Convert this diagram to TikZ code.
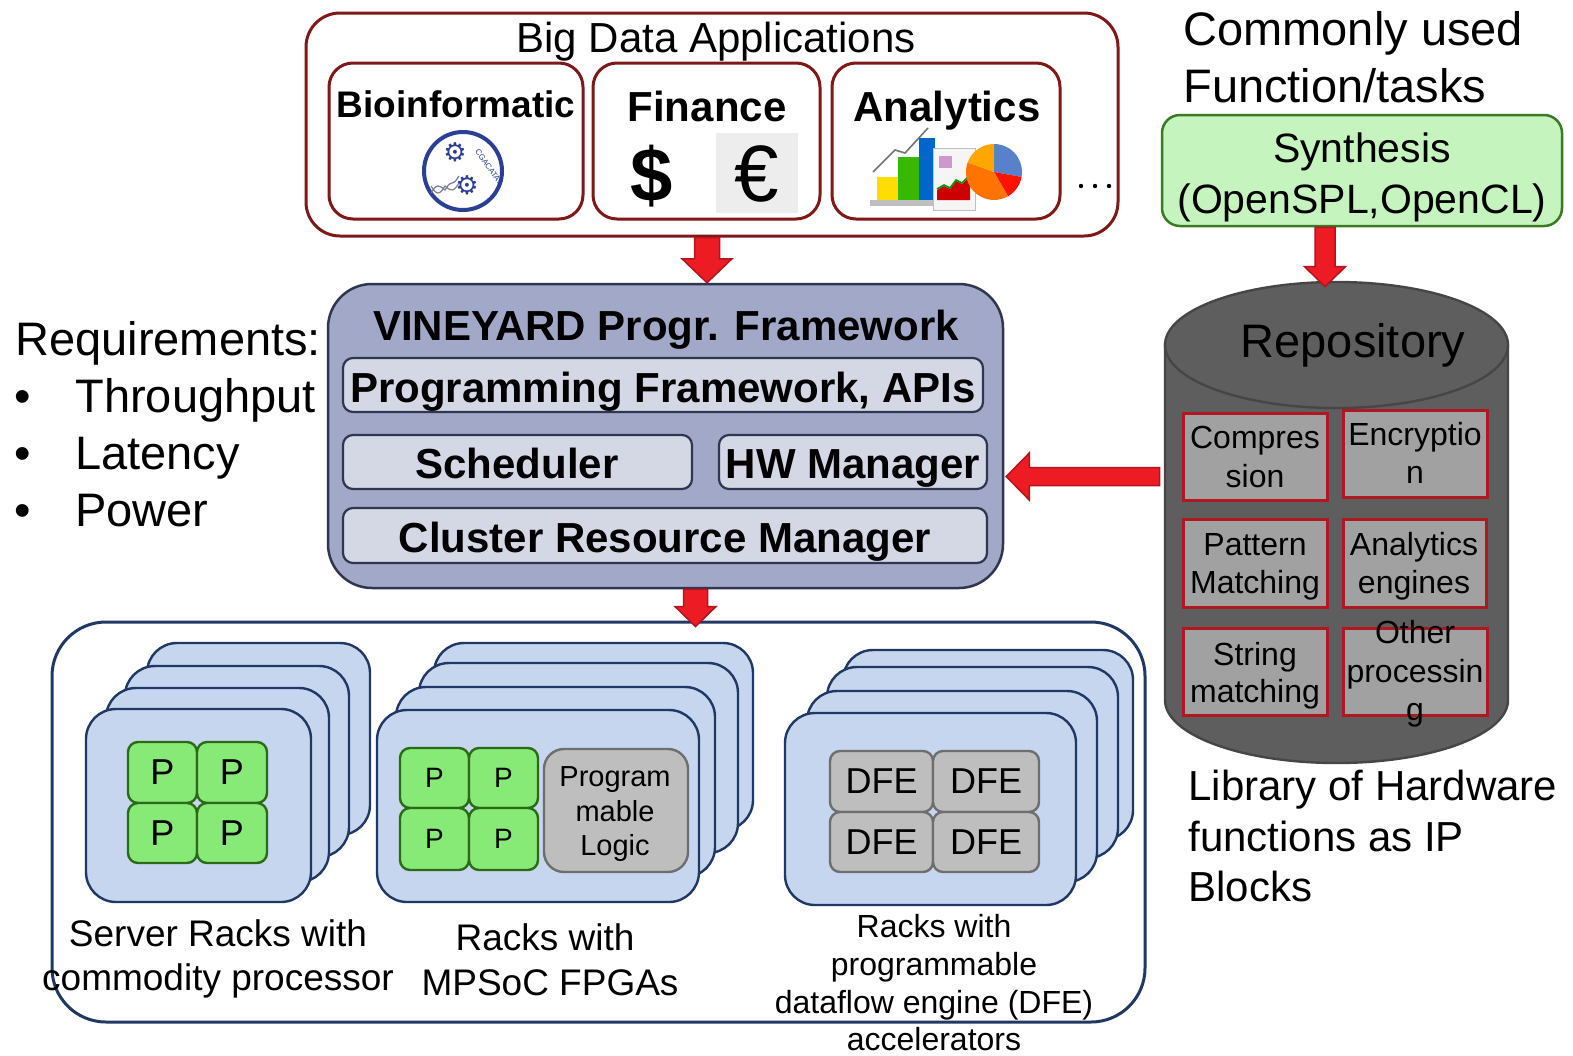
\documentclass[tikz,border=0pt]{standalone}
\usepackage{fontspec}
\setmainfont{Liberation Sans}
\newfontfamily\symfont{DejaVu Sans}
\usetikzlibrary{fit,calc}

\definecolor{appred}{RGB}{128,24,24}
\definecolor{arrowred}{RGB}{237,28,36}
\definecolor{arrowdark}{RGB}{180,20,28}
\definecolor{vfill}{RGB}{162,169,200}
\definecolor{vline}{RGB}{47,54,80}
\definecolor{vinner}{RGB}{212,216,228}
\definecolor{rackfill}{RGB}{197,214,238}
\definecolor{rackline}{RGB}{31,56,100}
\definecolor{pfill}{RGB}{136,234,118}
\definecolor{pline}{RGB}{43,106,23}
\definecolor{dfefill}{RGB}{190,190,190}
\definecolor{dfeline}{RGB}{110,110,110}
\definecolor{synfill}{RGB}{198,244,190}
\definecolor{synline}{RGB}{59,122,37}
\definecolor{repofill}{RGB}{94,94,94}
\definecolor{repoline}{RGB}{70,70,70}
\definecolor{ipfill}{RGB}{161,161,161}
\definecolor{ipline}{RGB}{176,24,32}
\definecolor{bioblue}{RGB}{43,63,148}

% block arrow pointing down: start, tip, half shaft, half head, head length
\newcommand\blkdown[5]{%
  \draw[blockarrow] ($(#1)+(-#3,0)$) -- ($(#1)+(#3,0)$) -- ($(#1 |- #2)+(#3,-#5)$)
    -- ($(#1 |- #2)+(#4,-#5)$) -- (#1 |- #2) -- ($(#1 |- #2)+(-#4,-#5)$)
    -- ($(#1 |- #2)+(-#3,-#5)$) -- cycle;}
% block arrow pointing left: start, tip, half shaft, half head, head length
\newcommand\blkleft[5]{%
  \draw[blockarrow] ($(#1)+(0,-#3)$) -- ($(#1)+(0,#3)$) -- ($(#2 |- #1)+(#5,#3)$)
    -- ($(#2 |- #1)+(#5,#4)$) -- (#2 |- #1) -- ($(#2 |- #1)+(#5,-#4)$)
    -- ($(#2 |- #1)+(#5,-#3)$) -- cycle;}

\tikzset{
  txt/.style={anchor=base, inner sep=0pt},
  lefttxt/.style={anchor=base west, inner sep=0pt},
  ctr/.style={anchor=center, inner sep=0pt},
  appouter/.style={draw=appred, line width=1.5pt, rounded corners=17pt, fill=white, inner sep=0pt},
  appbox/.style={draw=appred, line width=1.5pt, rounded corners=12pt, fill=white, inner sep=0pt},
  blockarrow/.style={fill=arrowred, draw=arrowdark, line width=0.75pt, line join=miter},
  vinebox/.style={draw=vline, line width=1.25pt, rounded corners=22pt, fill=vfill, inner sep=0pt},
  vinepart/.style={draw=vline, line width=1.1pt, rounded corners=5pt, fill=vinner, inner sep=0pt},
  synbox/.style={draw=synline, line width=1.25pt, rounded corners=9pt, fill=synfill, inner sep=0pt},
  ipbox/.style={draw=ipline, line width=1.5pt, fill=ipfill, inner sep=0pt},
  rackouter/.style={draw=rackline, line width=1.5pt, rounded corners=27pt, fill=white, inner sep=0pt},
  card/.style={draw=rackline, line width=1.2pt, rounded corners=15pt, fill=rackfill, inner sep=0pt},
  pbox/.style={draw=pline, line width=1.2pt, rounded corners=5pt, fill=pfill, inner sep=0pt},
  dfebox/.style={draw=dfeline, line width=1.2pt, rounded corners=5pt, fill=dfefill, inner sep=0pt},
  big/.style={font=\fontsize{23.5}{28}\selectfont},
  mid/.style={font=\fontsize{21}{25}\selectfont},
  bmid/.style={font=\bfseries\fontsize{21}{25}\selectfont},
  iptxt/.style={font=\fontsize{16}{19}\selectfont},
  lbl/.style={font=\fontsize{18.5}{22}\selectfont},
  slbl/.style={font=\fontsize{16}{19}\selectfont},
  bigp/.style={ctr, font=\fontsize{18}{18}\selectfont},
  smallp/.style={ctr, font=\fontsize{14}{14}\selectfont},
}

\begin{document}
\begin{tikzpicture}[x=0.5pt,y=-0.5pt]
\useasboundingbox[fill=white] (0,0) rectangle (1573,1055);

% ---------------- Big Data Applications ----------------
\node[appouter, fit={(306,13)(1118,236)}] (bigdata) {};
\node[txt, mid] (bdtitle) at (716,52) {Big Data Applications};
\node[appbox, fit={(329,63)(583,219)}] (bio) {};
\node[appbox, fit={(593,63)(820,219)}] (fin) {};
\node[appbox, fit={(832,63)(1060,219)}] (ana) {};
\node[txt, font=\bfseries\fontsize{18.5}{22}\selectfont] (biot) at (456,117) {Bioinformatic};
\node[txt, bmid] (fint) at (707,121) {Finance};
\node[txt, bmid] (anat) at (947,121) {Analytics};

% bioinformatics emblem
\draw[bioblue, line width=2pt] (463,171) circle [radius=39];
\node[text=bioblue, font=\symfont\fontsize{13}{13}\selectfont, inner sep=0pt] (gear1) at (455,152) {⚙};
\node[text=bioblue, font=\symfont\fontsize{13}{13}\selectfont, inner sep=0pt] (gear2) at (467,185) {⚙};
\draw[bioblue!70, line width=0.6pt] (431,193) sin (438,186) cos (445,190) sin (452,183) cos (459,176);
\draw[gray, line width=0.6pt] (431,186) sin (438,193) cos (445,186) sin (452,190) cos (459,183);
\node[text=bioblue, font=\fontsize{4}{4}\selectfont, rotate=-55, inner sep=0pt] (dna) at (489,167) {CGACATAT};

% currency symbols
\node[font=\bfseries\fontsize{38}{38}\selectfont, inner sep=0pt] (dollar) at (652,176) {\$};
\fill[black!7] (716,133) rectangle (798,213);
\node[font=\fontsize{40}{40}\selectfont, inner sep=0pt] (euro) at (757,174) {€};

% analytics chart icon
\fill[black!25] (870,200) rectangle (938,206);
\fill[yellow!80!orange] (877,177) rectangle (898,200);
\fill[green!60!black!70!lime] (898,157) rectangle (919,200);
\fill[blue!50!cyan!80!black] (919,138) rectangle (935,200);
\draw[black!55, line width=0.8pt] (873,172) -- (895,150) -- (905,153) -- (928,128);
\filldraw[fill=black!4, draw=black!25, line width=0.5pt] (933,148) rectangle (975,210);
\fill[red!80!black] (937,200) -- (937,190) -- (944,186) -- (950,189) -- (956,181) -- (962,184) -- (970,176) -- (970,200) -- cycle;
\draw[green!60!black, line width=0.8pt] (937,189) -- (944,185) -- (950,188) -- (956,180) -- (962,183) -- (970,175);
\fill[violet!40] (939,156) rectangle (952,168);
\fill[cyan!40!blue!70] (994,172) -- +(-90:28) arc[start angle=-90, end angle=10, radius=28] -- cycle;
\fill[red!85!orange] (994,172) -- +(10:28) arc[start angle=10, end angle=60, radius=28] -- cycle;
\fill[orange!90!red] (994,172) -- +(60:28) arc[start angle=60, end angle=200, radius=28] -- cycle;
\fill[orange!70!yellow] (994,172) -- +(200:28) arc[start angle=200, end angle=270, radius=28] -- cycle;

% ellipsis
\foreach \xx in {1081,1095,1109} \fill (\xx,186) circle [radius=2.2];

% ---------------- Synthesis ----------------
\node[lefttxt, big] (cu1) at (1183,45) {Commonly used};
\node[lefttxt, big] (cu2) at (1183,102) {Function/tasks};
\node[synbox, fit={(1162,115)(1562,226)}] (synth) {};
\node[txt, font=\fontsize{20.5}{25}\selectfont] (syn1) at (1362,162) {Synthesis};
\node[txt, font=\fontsize{20.5}{25}\selectfont] (syn2) at (1362,213) {(OpenSPL,OpenCL)};

% ---------------- Requirements ----------------
\node[lefttxt, big] (req) at (15,355) {Requirements:};
\node[lefttxt, big] (b1) at (14,412) {•};
\node[lefttxt, big] (r1) at (75,412) {Throughput};
\node[lefttxt, big] (b2) at (14,469) {•};
\node[lefttxt, big] (r2) at (75,469) {Latency};
\node[lefttxt, big] (b3) at (14,526) {•};
\node[lefttxt, big] (r3) at (75,526) {Power};

% ---------------- VINEYARD framework ----------------
\node[vinebox, fit={(328,284)(1003,588)}] (vine) {};
\node[txt, bmid] (vinet) at (666,340) {VINEYARD Progr. Framework};
\node[vinepart, fit={(343,358)(983,412)}] (pf) {};
\node[txt, bmid] (pft) at (663,402) {Programming Framework, APIs};
\node[vinepart, fit={(343,435)(692,489)}] (sch) {};
\node[txt, bmid] (scht) at (517,478) {Scheduler};
\node[vinepart, fit={(719,435)(987,489)}] (hw) {};
\node[txt, bmid] (hwt) at (853,478) {HW Manager};
\node[vinepart, fit={(343,508)(987,563)}] (crm) {};
\node[txt, bmid] (crmt) at (665,552) {Cluster Resource Manager};

% ---------------- Repository ----------------
\filldraw[fill=repofill, draw=repoline, line width=1.2pt]
  (1165,345) -- (1165,700) arc[start angle=180, end angle=0, x radius=171.5, y radius=63]
  -- (1508,345) -- cycle;
\filldraw[fill=repofill, draw=repoline, line width=1.2pt] (1336.5,345) ellipse [x radius=171.5, y radius=63];
\node[inner sep=0pt, fit={(1165,282)(1508,763)}] (repo) {};
\node[txt, big, text=black] (repot) at (1353,357) {Repository};

\node[ipbox, fit={(1183,413)(1327,500)}] (ip1) {};
\node[txt, iptxt] (ip1a) at (1255,448) {Compres};
\node[txt, iptxt] (ip1b) at (1255,487) {sion};
\node[ipbox, fit={(1343,410)(1487,497)}] (ip2) {};
\node[txt, iptxt] (ip2a) at (1415,445) {Encryptio};
\node[txt, iptxt] (ip2b) at (1415,483) {n};
\node[ipbox, fit={(1183,519)(1327,607)}] (ip3) {};
\node[txt, iptxt] (ip3a) at (1255,555) {Pattern};
\node[txt, iptxt] (ip3b) at (1255,593) {Matching};
\node[ipbox, fit={(1343,519)(1486,607)}] (ip4) {};
\node[txt, iptxt] (ip4a) at (1414,555) {Analytics};
\node[txt, iptxt] (ip4b) at (1414,593) {engines};
\node[ipbox, fit={(1183,628)(1327,715)}] (ip5) {};
\node[txt, iptxt] (ip5a) at (1255,665) {String};
\node[txt, iptxt] (ip5b) at (1255,702) {matching};
\node[ipbox, fit={(1343,628)(1487,715)}] (ip6) {};
\node[txt, iptxt] (ip6a) at (1415,643) {Other};
\node[txt, iptxt] (ip6b) at (1415,682) {processin};
\node[txt, iptxt] (ip6c) at (1415,720) {g};

\node[lefttxt, mid] (lib1) at (1188,800) {Library of Hardware};
\node[lefttxt, mid] (lib2) at (1188,851) {functions as IP};
\node[lefttxt, mid] (lib3) at (1188,901) {Blocks};

% ---------------- Racks ----------------
\node[rackouter, fit={(52,622)(1145,1022)}] (racks) {};

% server racks
\node[card, fit={(147,643)(370,835)}] (s4) {};
\node[card, fit={(125,666)(349,857)}] (s3) {};
\node[card, fit={(106,688)(329,882)}] (s2) {};
\node[card, fit={(86,709)(311,902)}] (s1) {};
\node[pbox, fit={(128,742)(197,803)}] (sp1) {};
\node[pbox, fit={(197,742)(267,803)}] (sp2) {};
\node[pbox, fit={(128,803)(197,863)}] (sp3) {};
\node[pbox, fit={(197,803)(267,863)}] (sp4) {};
\node[bigp] (sp1t) at (sp1) {P};
\node[bigp] (sp2t) at (sp2) {P};
\node[bigp] (sp3t) at (sp3) {P};
\node[bigp] (sp4t) at (sp4) {P};
\node[txt, lbl] (sl1) at (218,946) {Server Racks with};
\node[txt, lbl] (sl2) at (218,990) {commodity processor};

% MPSoC racks
\node[card, fit={(434,643)(753,830)}] (m4) {};
\node[card, fit={(419,663)(738,853)}] (m3) {};
\node[card, fit={(396,687)(715,877)}] (m2) {};
\node[card, fit={(377,710)(699,902)}] (m1) {};
\node[pbox, fit={(400,748)(469,808)}] (mp1) {};
\node[pbox, fit={(469,748)(538,808)}] (mp2) {};
\node[pbox, fit={(400,808)(469,870)}] (mp3) {};
\node[pbox, fit={(469,808)(538,870)}] (mp4) {};
\node[smallp] (mp1t) at (mp1) {P};
\node[smallp] (mp2t) at (mp2) {P};
\node[smallp] (mp3t) at (mp3) {P};
\node[smallp] (mp4t) at (mp4) {P};
\node[dfebox, rounded corners=10pt, fit={(544,749)(688,872)}] (pl) {};
\node[txt, font=\fontsize{14.5}{17}\selectfont] (pl1) at (615,786) {Program};
\node[txt, font=\fontsize{14.5}{17}\selectfont] (pl2) at (615,821) {mable};
\node[txt, font=\fontsize{14.5}{17}\selectfont] (pl3) at (615,855) {Logic};
\node[txt, lbl] (ml1) at (545,950) {Racks with};
\node[txt, lbl] (ml2) at (550,995) {MPSoC FPGAs};

% DFE racks
\node[card, fit={(843,650)(1133,840)}] (d4) {};
\node[card, fit={(827,667)(1118,858)}] (d3) {};
\node[card, fit={(807,691)(1097,882)}] (d2) {};
\node[card, fit={(785,713)(1076,905)}] (d1) {};
\node[dfebox, fit={(830,751)(933,812)}] (df1) {};
\node[dfebox, fit={(933,751)(1039,812)}] (df2) {};
\node[dfebox, fit={(830,812)(933,872)}] (df3) {};
\node[dfebox, fit={(933,812)(1039,872)}] (df4) {};
\node[bigp] (df1t) at (df1) {DFE};
\node[bigp] (df2t) at (df2) {DFE};
\node[bigp] (df3t) at (df3) {DFE};
\node[bigp] (df4t) at (df4) {DFE};
\node[txt, slbl] (dl1) at (934,937) {Racks with};
\node[txt, slbl] (dl2) at (934,975) {programmable};
\node[txt, slbl] (dl3) at (934,1013) {dataflow engine (DFE)};
\node[txt, slbl] (dl4) at (934,1050) {accelerators};

% ---------------- Block arrows ----------------
\coordinate (a1s) at ($(bigdata.south)+(-5,0)$);
\blkdown{a1s}{vine.north}{12.5}{25}{24}
\coordinate (a2s) at ($(vine.south)+(30,0)$);
\coordinate (a2t) at ($(racks.north)+(0,6)$);
\blkdown{a2s}{a2t}{12}{20.5}{20}
\coordinate (a3s) at ($(synth.south)+(-37,0)$);
\coordinate (a3t) at ($(repo.north)+(0,5)$);
\blkdown{a3s}{a3t}{10}{20.5}{20}
\coordinate (a4s) at ($(repo.west)+(-5,-46)$);
\coordinate (a4t) at ($(vine.east)+(2,0)$);
\blkleft{a4s}{a4t}{9}{23.5}{23}
\end{tikzpicture}
\end{document}
